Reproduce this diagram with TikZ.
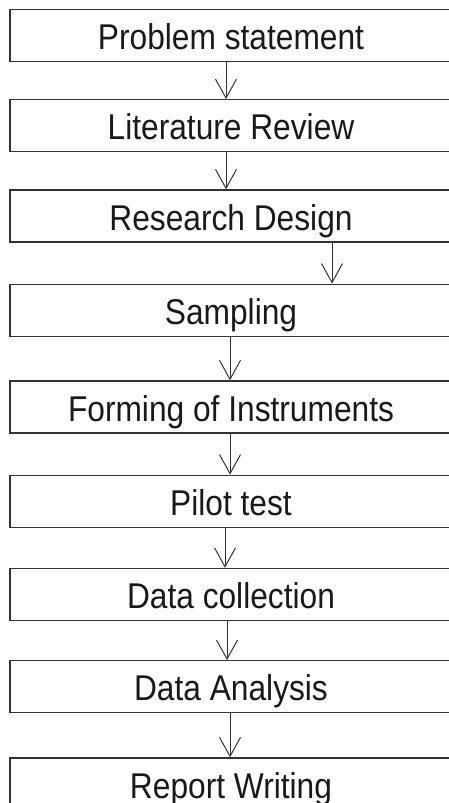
\documentclass[tikz,border=0pt]{standalone}
\usepackage{fontspec}
\setmainfont{Liberation Sans}
\usetikzlibrary{arrows.meta}
\begin{document}
\begin{tikzpicture}[x=1pt, y=1pt, font=\fontsize{31.7}{36}\selectfont,
  stage/.style={draw=black!80, line width=1.2pt, text=black!90, yscale=1.13,
    minimum width=442pt, minimum height=46pt, inner sep=0pt,
    text height=25pt, text depth=0pt},
  flow/.style={draw=black!80, line width=1pt,
    -{Straight Barb[length=19pt, width=21pt, line width=1pt]}}]
  \useasboundingbox (0,0) rectangle (449,-803);

  % stages, top to bottom (right edges run past the page)
  \node[stage] (prob)     at (231,-35.5)  {Problem statement};
  \node[stage] (lit)      at (231,-125.8) {Literature Review};
  \node[stage] (design)   at (231,-216)   {Research Design};
  \node[stage] (samp)     at (231,-310.3) {Sampling};
  \node[stage] (instr)    at (231,-407)   {Forming of Instruments};
  \node[stage] (pilot)    at (231,-501.3) {Pilot test};
  \node[stage] (collect)  at (231,-594.5) {Data collection};
  \node[stage] (analysis) at (231,-686.7) {Data Analysis};
  \node[stage] (report)   at (231,-784)   {Report Writing};

  % arrows between stages
  \draw[flow] ([xshift=-5pt]prob.south)     -- ([xshift=-5pt]lit.north);
  \draw[flow] ([xshift=-5pt]lit.south)      -- ([xshift=-5pt]design.north);
  \draw[flow] ([xshift=101pt]design.south)  -- ([xshift=101pt]samp.north);
  \draw[flow] ([xshift=-1pt]samp.south)     -- ([xshift=-1pt]instr.north);
  \draw[flow] ([xshift=-1pt]instr.south)    -- ([xshift=-1pt]pilot.north);
  \draw[flow] ([xshift=-6pt]pilot.south)    -- ([xshift=-6pt]collect.north);
  \draw[flow] ([xshift=-4pt]collect.south)  -- ([xshift=-4pt]analysis.north);
  \draw[flow] ([xshift=-1pt]analysis.south) -- ([xshift=-1pt]report.north);
\end{tikzpicture}
\end{document}
